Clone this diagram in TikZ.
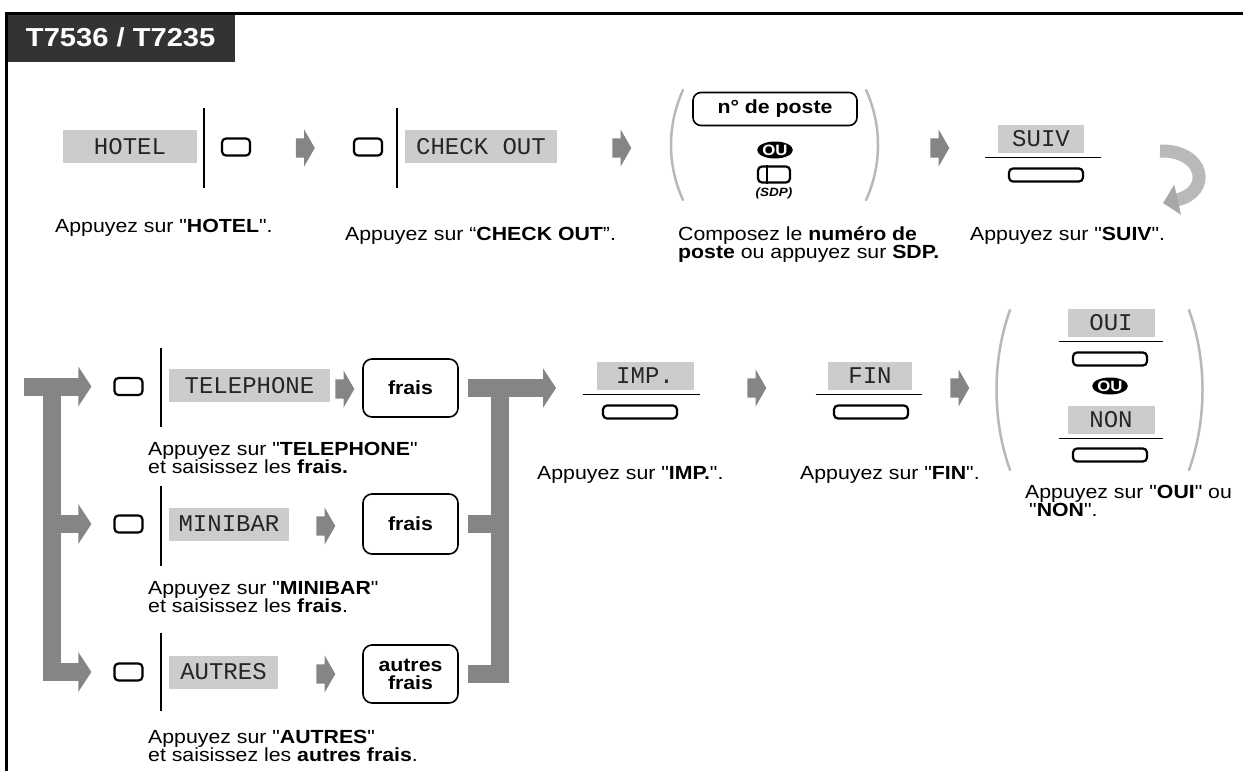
\documentclass[tikz,border=0pt]{standalone}
\usepackage{fontspec}
\setmainfont{Liberation Sans}[Ligatures=TeXOff, FakeStretch=1.12]
\setmonofont{Liberation Mono}
\usepackage{tikz}
\usetikzlibrary{positioning,arrows.meta,shapes.geometric,shapes.arrows}

\definecolor{keygray}{HTML}{CCCCCC}
\definecolor{flowgray}{HTML}{858585}
\definecolor{headgray}{HTML}{333333}
\definecolor{parengray}{HTML}{B8B8B8}
\newcommand{\txt}{\fontsize{19}{18}\selectfont}

\begin{document}
\begin{tikzpicture}[x=1pt, y=-1pt,
  softkey/.style={fill=keygray, font=\fontsize{24}{24}\ttfamily, text=black!85, minimum height=33pt, inner sep=0pt},
  menukey/.style={softkey, minimum height=28pt},
  hardkey/.style={draw, line width=2.2pt, rounded corners=4pt, minimum width=28pt, minimum height=17pt, inner sep=0pt},
  widekey/.style={hardkey, minimum width=74pt, minimum height=13pt},
  entry/.style={draw, line width=1.6pt, rounded corners=9pt, font=\bfseries\txt, align=center, inner sep=0pt},
  note/.style={anchor=base west, align=left, font=\txt, inner sep=0pt},
  sepline/.style={line width=2.4pt},
  uline/.style={line width=1.3pt},
  flowarr/.style={single arrow, fill=flowgray, draw=none, inner xsep=0pt, inner ysep=9.5pt,
    minimum height=19pt, minimum width=37pt, single arrow head extend=9pt, single arrow tip angle=120},
  bracket/.style={line width=18pt, flowgray, line join=miter},
  bracketarr/.style={bracket, -{Triangle[width=39pt, length=13pt]}},
  ou/.style={ellipse, fill=black, text=white, font=\bfseries\fontsize{15}{15}\selectfont, inner sep=0pt, minimum width=31pt, minimum height=17pt},
  paren/.style={line width=2.5pt, parengray, line cap=round},
  curl/.style={line width=13pt, gray!55, -{Triangle[width=30pt, length=15pt, color=gray!68]}},
]
\useasboundingbox (0,0) rectangle (1243,771);

% === Frame and title ===
\node[fill=headgray, text=white, font=\bfseries\fontsize{26}{26}\selectfont, minimum width=229pt, minimum height=49pt, inner sep=0pt, anchor=north west] (title) at (6,13) {T7536 / T7235};
\draw[line width=3pt] (1243,13) -- (title.north west) -- (6,771);

% === Row 1 ===
\node[softkey, minimum width=134pt] (hotel) at (130,146.5) {HOTEL};
\draw[sepline] (204,108) -- (204,188);
\node[hardkey] (k1) at (236,147) {};
\node[flowarr] (a1) at (302.5,148) {};
\node[hardkey] (k2) at (368,147) {};
\draw[sepline] (397,108) -- (397,188);
\node[softkey, minimum width=152pt] (checkout) at (481,146.5) {CHECK OUT};
\node[flowarr] (a2) at (619,148) {};

% extension number or SDP
\draw[paren] (683,90) .. controls (667,125) and (667,165) .. (683,200);
\node[entry, minimum width=164pt, minimum height=33pt, rounded corners=8pt] (poste) at (775,109) {n° de poste};
\node[ou] (ou1) at (775,150) {OU};
\node[hardkey, minimum width=32pt, minimum height=16pt] (sdp) at (774,174.5) {};
\draw[line width=2pt] ([xshift=10pt]sdp.north west) -- ([xshift=10pt]sdp.south west);
\node[font=\bfseries\itshape\fontsize{12}{12}\selectfont, inner sep=0pt] (sdplbl) at (774,193) {(SDP)};
\draw[paren] (866,90) .. controls (882,125) and (882,165) .. (866,200);
\node[flowarr] (a3) at (937,148) {};

\node[menukey, minimum width=86pt] (suiv) at (1041,139) {SUIV};
\draw[uline] ([shift={(-13pt,-4pt)}]suiv.south west) -- ([shift={(17pt,-4pt)}]suiv.south east);
\node[widekey] (k3) at (1046,175) {};
\draw[curl] (1160,151) .. controls (1205,150) and (1212,192) .. (1163,203);

\node[note] (n1) at (55,232) {Appuyez sur "\textbf{HOTEL}".};
\node[note] (n2) at (345,240) {Appuyez sur “\textbf{CHECK OUT}”.};
\node[note] (n3) at (678,258) {Composez le \textbf{numéro de}\\\textbf{poste} ou appuyez sur \textbf{SDP.}};
\node[note] (n4) at (970,240) {Appuyez sur "\textbf{SUIV}".};

% === Row 2: charges ===
\node[hardkey] (kt) at (128.5,386.5) {};
\draw[sepline] (161,348) -- (161,427);
\node[softkey, minimum width=161pt] (tel) at (249.5,385.5) {TELEPHONE};
\node[flowarr] (a4) at (342,389) {};
\node[entry, minimum width=95pt, minimum height=58pt] (frais1) at (410.5,388) {frais};

\node[hardkey] (km) at (128.5,524) {};
\draw[sepline] (161,486) -- (161,566);
\node[softkey, minimum width=120pt] (minibar) at (229,524) {MINIBAR};
\node[flowarr] (a5) at (323,526) {};
\node[entry, minimum width=95pt, minimum height=60pt] (frais2) at (410.5,524) {frais};

\node[hardkey] (ka) at (128.5,672) {};
\draw[sepline] (161,633) -- (161,711);
\node[softkey, minimum width=109pt] (autres) at (223.5,672) {AUTRES};
\node[flowarr] (a6) at (323,674) {};
\node[entry, minimum width=95pt, minimum height=58pt] (frais3) at (410.5,674) {autres\\frais};

\node[note] (n5) at (148,473) {Appuyez sur "\textbf{TELEPHONE}"\\et saisissez les \textbf{frais.}};
\node[note] (n6) at (148,612) {Appuyez sur "\textbf{MINIBAR}"\\et saisissez les \textbf{frais}.};
\node[note] (n7) at (148,761) {Appuyez sur "\textbf{AUTRES}"\\et saisissez les \textbf{autres frais}.};

% branch and merge brackets
\coordinate (entry) at (24,386.5);
\coordinate (lbar) at (51.5,386.5);
\draw[bracketarr] (entry) -- ([xshift=-22pt]kt.west);
\draw[bracketarr] (lbar) |- ([xshift=-22pt]ka.west);
\draw[bracketarr] (lbar |- km.west) -- ([xshift=-22pt]km.west);

\coordinate (rbar) at (500,388);
\coordinate (merge) at (556,388);
\draw[bracket] ([xshift=9pt]frais3.east) -| (rbar);
\draw[bracket] ([xshift=9pt]frais2.east) -- (rbar |- frais2.east);
\draw[bracketarr] ([xshift=9pt]frais1.east) -- (merge);

% === Row 2: print, end, yes/no ===
\node[menukey, minimum width=97pt] (imp) at (645,376) {IMP.};
\draw[uline] ([shift={(-13pt,-4pt)}]imp.south west) -- ([shift={(6pt,-4pt)}]imp.south east);
\node[widekey] (k4) at (640,412) {};
\node[flowarr] (a7) at (754,388) {};

\node[menukey, minimum width=84pt] (fin) at (870,376) {FIN};
\draw[uline] ([shift={(-12pt,-4pt)}]fin.south west) -- ([shift={(10pt,-4pt)}]fin.south east);
\node[widekey] (k5) at (871,412) {};
\node[flowarr] (a8) at (957,388) {};

\draw[paren] (1010,310) .. controls (992,360) and (992,420) .. (1010,470);
\node[menukey, minimum width=87pt] (oui) at (1111,323) {OUI};
\draw[uline] ([shift={(-8pt,-4pt)}]oui.south west) -- ([shift={(8pt,-4pt)}]oui.south east);
\node[widekey] (k6) at (1110,359) {};
\node[ou] (ou2) at (1110,386) {OU};
\node[menukey, minimum width=87pt] (non) at (1111,420) {NON};
\draw[uline] ([shift={(-8pt,-4pt)}]non.south west) -- ([shift={(8pt,-4pt)}]non.south east);
\node[widekey] (k7) at (1110,455) {};
\draw[paren] (1189,310) .. controls (1207,360) and (1207,420) .. (1189,470);

\node[note] (n8) at (537,479) {Appuyez sur "\textbf{IMP.}".};
\node[note] (n9) at (800,479) {Appuyez sur "\textbf{FIN}".};
\node[note] (n10) at (1025,516) {Appuyez sur "\textbf{OUI}" ou\\\hspace{4pt}"\textbf{NON}".};

\end{tikzpicture}
\end{document}
